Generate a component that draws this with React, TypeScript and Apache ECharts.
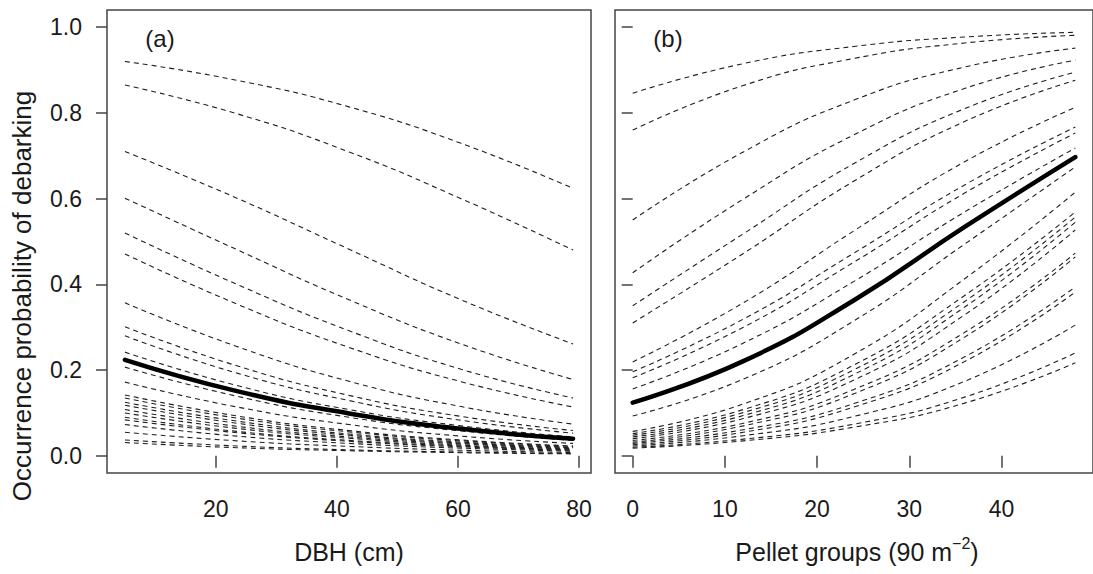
import React, { useEffect, useRef } from "react";
import * as echarts from "echarts";

// ---- Panel (a): DBH ----
const dbhX = [5, 23.5, 42, 60.5, 79];
const dbhMean = [0.224, 0.151, 0.099, 0.063, 0.04];
const dbhSites = [
  [0.92, 0.876, 0.814, 0.729, 0.624],
  [0.865, 0.798, 0.709, 0.6, 0.48],
  [0.71, 0.601, 0.482, 0.364, 0.261],
  [0.601, 0.481, 0.364, 0.261, 0.178],
  [0.52, 0.4, 0.292, 0.202, 0.135],
  [0.471, 0.354, 0.253, 0.173, 0.114],
  [0.357, 0.255, 0.174, 0.115, 0.074],
  [0.301, 0.21, 0.141, 0.092, 0.059],
  [0.28, 0.193, 0.129, 0.083, 0.053],
  [0.242, 0.164, 0.108, 0.07, 0.044],
  [0.207, 0.139, 0.09, 0.058, 0.036],
  [0.172, 0.114, 0.073, 0.046, 0.029],
  [0.142, 0.093, 0.059, 0.037, 0.023],
  [0.135, 0.088, 0.056, 0.035, 0.022],
  [0.125, 0.081, 0.051, 0.032, 0.02],
  [0.118, 0.076, 0.048, 0.03, 0.019],
  [0.108, 0.069, 0.044, 0.028, 0.017],
  [0.1, 0.064, 0.041, 0.025, 0.016],
  [0.09, 0.057, 0.036, 0.023, 0.014],
  [0.084, 0.054, 0.034, 0.021, 0.013],
  [0.073, 0.046, 0.029, 0.018, 0.011],
  [0.055, 0.035, 0.022, 0.013, 0.008],
  [0.037, 0.023, 0.014, 0.009, 0.0055],
  [0.031, 0.019, 0.012, 0.0074, 0.0046],
];

// ---- Panel (b): Pellet groups ----
const pelletX = [0, 12, 24, 36, 48];
const pelletMean = [0.124, 0.221, 0.363, 0.534, 0.697];
const pelletSites = [
  [0.846, 0.915, 0.955, 0.977, 0.988],
  [0.76, 0.864, 0.927, 0.963, 0.981],
  [0.55, 0.709, 0.83, 0.907, 0.951],
  [0.427, 0.599, 0.749, 0.857, 0.923],
  [0.35, 0.518, 0.682, 0.81, 0.895],
  [0.31, 0.472, 0.641, 0.78, 0.876],
  [0.219, 0.357, 0.525, 0.686, 0.813],
  [0.196, 0.319, 0.473, 0.632, 0.767],
  [0.182, 0.3, 0.452, 0.613, 0.753],
  [0.156, 0.263, 0.407, 0.569, 0.718],
  [0.093, 0.179, 0.315, 0.494, 0.674],
  [0.057, 0.121, 0.237, 0.413, 0.615],
  [0.052, 0.108, 0.212, 0.374, 0.569],
  [0.048, 0.101, 0.201, 0.36, 0.557],
  [0.044, 0.094, 0.19, 0.347, 0.545],
  [0.04, 0.087, 0.177, 0.329, 0.527],
  [0.036, 0.076, 0.155, 0.288, 0.473],
  [0.032, 0.07, 0.145, 0.277, 0.464],
  [0.029, 0.061, 0.122, 0.231, 0.394],
  [0.026, 0.055, 0.114, 0.22, 0.382],
  [0.023, 0.047, 0.092, 0.174, 0.305],
  [0.02, 0.039, 0.074, 0.137, 0.24],
  [0.018, 0.035, 0.067, 0.123, 0.217],
];

const yTicks = [0, 0.2, 0.4, 0.6, 0.8, 1.0];
const dbhTicks = [20, 40, 60, 80];
const pelletTicks = [0, 10, 20, 30, 40];

const FONT = "'Liberation Sans', Arial, Helvetica, sans-serif";
const INK = "#1a1a1a";
const FRAME = "#444";

export default function App() {
  const ref = useRef<HTMLDivElement>(null);

  useEffect(() => {
    document.body.style.margin = "0";
    const chart = echarts.init(ref.current!, null, { renderer: "svg" });

    const dashed = (xs: number[], ys: number[], gi: number) => ({
      type: "line",
      xAxisIndex: gi,
      yAxisIndex: gi,
      data: xs.map((x, i) => [x, ys[i]]),
      smooth: 0.5,
      symbol: "none",
      silent: true,
      lineStyle: { color: "#1f1f1f", width: 1.1, type: [5, 4] },
      z: 2,
    });
    const solid = (xs: number[], ys: number[], gi: number) => ({
      type: "line",
      xAxisIndex: gi,
      yAxisIndex: gi,
      data: xs.map((x, i) => [x, ys[i]]),
      smooth: 0.5,
      symbol: "none",
      silent: true,
      lineStyle: { color: "#000", width: 4.5, cap: "round" },
      z: 3,
    });

    const xAxisBase = (gi: number, min: number, max: number, ticks: number[]) => ({
      type: "value",
      gridIndex: gi,
      min,
      max,
      axisLine: { show: false },
      splitLine: { show: false },
      axisTick: {
        show: true,
        customValues: ticks,
        length: 12,
        lineStyle: { color: FRAME, width: 1.5 },
      },
      axisLabel: {
        customValues: ticks,
        margin: 24,
        fontSize: 23,
        color: INK,
        fontFamily: FONT,
        formatter: (v: number) => String(v),
      },
    });
    const yAxisBase = (gi: number, showLabels: boolean) => ({
      type: "value",
      gridIndex: gi,
      min: -0.04,
      max: 1.04,
      axisLine: { show: false },
      splitLine: { show: false },
      axisTick: {
        show: true,
        customValues: yTicks,
        length: 11,
        lineStyle: { color: FRAME, width: 1.5 },
      },
      axisLabel: {
        show: showLabels,
        customValues: yTicks,
        margin: 25,
        fontSize: 23,
        color: INK,
        fontFamily: FONT,
        formatter: (v: number) => v.toFixed(1),
      },
    });

    const series: any[] = [];
    dbhSites.forEach((s) => series.push(dashed(dbhX, s, 0)));
    series.push(solid(dbhX, dbhMean, 0));
    pelletSites.forEach((s) => series.push(dashed(pelletX, s, 1)));
    series.push(solid(pelletX, pelletMean, 1));

    chart.setOption({
      animation: false,
      backgroundColor: "#fff",
      grid: [
        { left: 107, top: 10, width: 484, height: 463, show: true, borderColor: FRAME, borderWidth: 1.5, backgroundColor: "transparent" },
        { left: 615, top: 10, width: 484, height: 463, show: true, borderColor: FRAME, borderWidth: 1.5, backgroundColor: "transparent" },
      ],
      xAxis: [xAxisBase(0, 2.04, 81.96, dbhTicks), xAxisBase(1, -1.92, 49.92, pelletTicks)],
      yAxis: [yAxisBase(0, true), yAxisBase(1, false)],
      series,
      graphic: [
        {
          type: "text",
          x: 160,
          y: 38,
          style: { text: "(a)", fontSize: 24, fontFamily: FONT, fill: INK, align: "center", verticalAlign: "middle" },
        },
        {
          type: "text",
          x: 668,
          y: 38,
          style: { text: "(b)", fontSize: 24, fontFamily: FONT, fill: INK, align: "center", verticalAlign: "middle" },
        },
        {
          type: "text",
          x: 349,
          y: 552,
          style: { text: "DBH (cm)", fontSize: 25, fontFamily: FONT, fill: INK, align: "center", verticalAlign: "middle" },
        },
        {
          type: "text",
          x: 857,
          y: 552,
          style: {
            text: "{n|Pellet groups (90 m}{s|\u22122}{n|)}",
            fontFamily: FONT,
            fill: INK,
            align: "center",
            verticalAlign: "middle",
            rich: {
              n: { fontSize: 25, fontFamily: FONT, fill: INK, lineHeight: 34 },
              s: { fontSize: 16, fontFamily: FONT, fill: INK, lineHeight: 16, verticalAlign: "top" },
            },
          },
        },
        {
          type: "text",
          x: 22,
          y: 296,
          rotation: Math.PI / 2,
          style: {
            text: "Occurrence probability of debarking",
            fontSize: 26,
            fontFamily: FONT,
            fill: INK,
            align: "center",
            verticalAlign: "middle",
          },
        },
      ],
    });

    return () => chart.dispose();
  }, []);

  return <div ref={ref} style={{ width: 1093, height: 574 }} />;
}
